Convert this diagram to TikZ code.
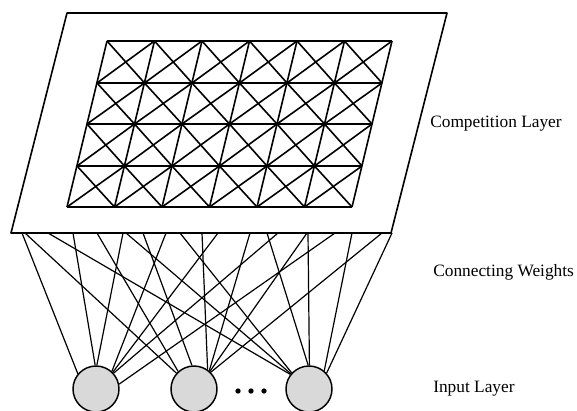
\documentclass[tikz,border=0pt]{standalone}
\usepackage{fontspec}
\setmainfont{Liberation Serif}
\begin{document}
\begin{tikzpicture}[x=0.75pt,y=-0.75pt, line join=round,
  frame/.style={line width=1.2pt},
  gridline/.style={line width=1.2pt},
  wire/.style={line width=0.9pt},
  unit/.style={circle, draw, line width=1.1pt, fill=gray!30, minimum size=34.5pt, inner sep=0pt},
  dot/.style={circle, fill=black, minimum size=4pt, inner sep=0pt},
  lbl/.style={anchor=west, inner sep=0pt, font=\fontsize{13}{15}\selectfont}]
\useasboundingbox (0,0) rectangle (577,410);
\begin{scope}
\clip (0,0) rectangle (577,410);
% outer layer frame
\draw[frame] (67,13) -- (447,13) -- (391,233) -- (11,233) -- cycle;
% grid
\foreach \j in {0,...,4}
  \draw[gridline] ({107-10*\j},{41+round(41.5*\j)}) -- ({107+47.5*6-10*\j},{41+round(41.5*\j)});
\foreach \i in {0,...,6}
  \draw[gridline] ({107+47.5*\i},41) -- ({107+47.5*\i-40},207);
\foreach \i in {0,...,5}
  \foreach \j in {0,...,3} {
    \draw[gridline] ({107+47.5*\i-10*\j},{41+round(41.5*\j)}) -- ({107+47.5*(\i+1)-10*(\j+1)},{41+round(41.5*(\j+1))});
    \draw[gridline] ({107+47.5*(\i+1)-10*\j},{41+round(41.5*\j)}) -- ({107+47.5*\i-10*(\j+1)},{41+round(41.5*(\j+1))});
  }
% input units
\node[unit] (a) at (96,389) {};
\node[unit] (b) at (194,389) {};
\node[unit] (c) at (309,389) {};
\node[dot] (d1) at (238,391) {};
\node[dot] (d2) at (251,391) {};
\node[dot] (d3) at (264,391) {};
% connecting weights
\foreach \x/\n/\a in {22/a/140, 73/a/92, 123/a/88, 166/a/48, 218/a/45, 278/a/42, 335/a/12,
                      25/b/138, 97/b/132, 143/b/95, 202/b/55, 250/b/50, 307/b/48, 382/b/45,
                      48/c/142, 126/c/140, 180/c/137, 267/c/92, 308/c/89, 352/c/50, 392/c/42} {
  \coordinate (w\x) at (\x,233);
  \draw[wire] (w\x) -- (\n.\a);
}
\end{scope}
% labels
\node[lbl] (l1) at (430,124) {Competition Layer};
\node[lbl] (l2) at (433,272) {Connecting Weights};
\node[lbl] (l3) at (433,389) {Input Layer};
\end{tikzpicture}
\end{document}
